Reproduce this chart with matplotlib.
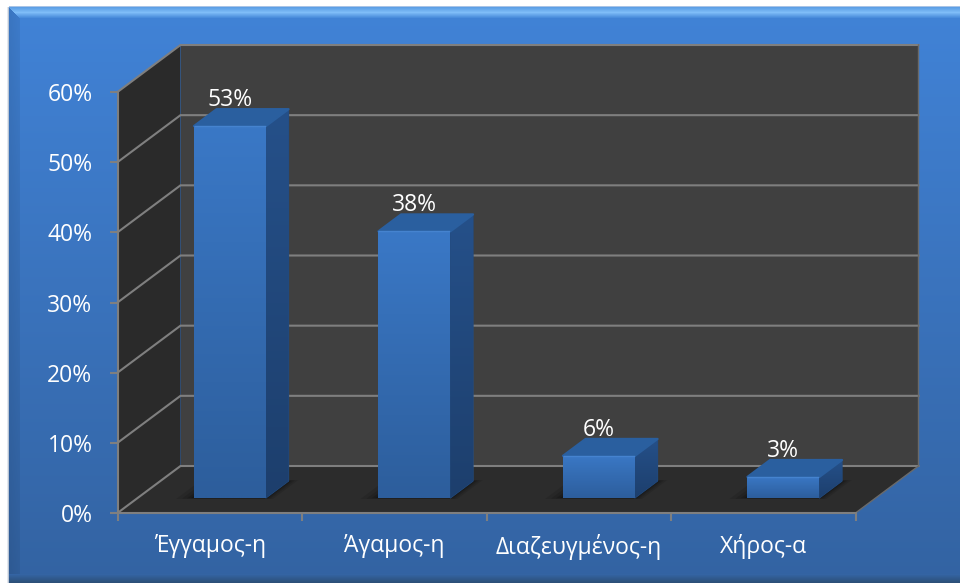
import numpy as np
import matplotlib
matplotlib.use("Agg")
import matplotlib.pyplot as plt
from matplotlib.patches import Polygon
from matplotlib.colors import to_rgb

categories = ["Έγγαμος-η", "Άγαμος-η", "Διαζευγμένος-η", "Χήρος-α"]
values = [53, 38, 6, 3]
y_ticks = [0, 10, 20, 30, 40, 50, 60]
y_labels = ["0%", "10%", "20%", "30%", "40%", "50%", "60%"]

W, H = 960, 583
FS = 16.5
plt.rcParams['font.family'] = ['Open Sans', 'Noto Sans', 'DejaVu Sans']
fig = plt.figure(figsize=(W / 100, H / 100), dpi=100)

# ---- background panel (vertical gradient with bevelled frame)
bg_ax = fig.add_axes([0, 0, 1, 1])
bg_ax.set_axis_off()
img = np.ones((H, W, 3))
def lerp(a, b, t):
    return np.array(to_rgb(a)) * (1 - t) + np.array(to_rgb(b)) * t
L, T, B = 9, 7, 583
for r in range(T, B):
    t = (r - T) / (B - T)
    img[r, L:] = lerp('#4183d7', '#3363a2', t)
for c in range(L, L + 11):
    img[T + (c - L) + 1:B, c] = img[T + (c - L) + 1:B, c] * (0.90 + 0.004 * (c - L))
for r in range(T, 18):
    t = (r - T) / 10
    c = lerp('#5d9fe6', '#7fbdf8', t / 0.5) if t < 0.5 else lerp('#7fbdf8', '#4a8ddc', (t - 0.5) / 0.5)
    img[r, L + (r - T):] = c
img[T - 1, L:] = to_rgb('#a9c4e6')
for r in range(B - 9, B):
    t = (r - B + 9) / 8
    img[r, L:] = lerp('#3464a3', '#2d5078', t)
img[T:B, L - 1] = to_rgb('#b8c4d4')
img[T:B, L - 2] = to_rgb('#e4e8ee')
bg_ax.imshow(img, aspect='auto', interpolation='nearest', extent=(0, W, H, 0))

# ---- chart axes: front plane of the 3D box
x0, x1, y_top, y_bot = 117.5, 855.5, 92, 513
ax = fig.add_axes([x0 / W, 1 - y_bot / H, (x1 - x0) / W, (y_bot - y_top) / H])
ax.patch.set_alpha(0)
n = len(categories)
XMAX, YMAX = n, 60
DX = 63 / ((x1 - x0) / XMAX)      # full depth, in data units
DY = 47 / ((y_bot - y_top) / YMAX)

def proj(x, y, d):
    return (x + d * DX, y + d * DY)

GRID = '#7f7f7f'
LW = 1.5
# walls
ax.add_patch(Polygon([proj(0, 0, 1), proj(XMAX, 0, 1), proj(XMAX, YMAX, 1), proj(0, YMAX, 1)],
                     fc='#404040', ec='none', zorder=1, clip_on=False))
ax.add_patch(Polygon([proj(0, 0, 0), proj(0, 0, 1), proj(0, YMAX, 1), proj(0, YMAX, 0)],
                     fc='#2a2a2a', ec='none', zorder=1, clip_on=False))
ax.add_patch(Polygon([proj(0, 0, 0), proj(XMAX, 0, 0), proj(XMAX, 0, 1), proj(0, 0, 1)],
                     fc='#2c2c2c', ec='none', zorder=1, clip_on=False))
# grid
for v in y_ticks:
    pts = [proj(0, v, 0), proj(0, v, 1), proj(XMAX, v, 1)]
    ax.plot(*zip(*pts), color=GRID, lw=LW, zorder=2, clip_on=False, solid_joinstyle='miter')
pts = [proj(XMAX, 0, 0), proj(XMAX, 0, 1), proj(XMAX, YMAX, 1)]
ax.plot(*zip(*pts), color='#6a6a6a', lw=1.0, zorder=2, clip_on=False)

# ---- bars
BW = 0.39
D0, D1 = 0.32, 0.68

def gradient_on(patch, top, bottom, zorder):
    verts = patch.get_path().vertices
    verts = patch.get_patch_transform().transform(verts)
    xa, xb, ya, yb = verts[:, 0].min(), verts[:, 0].max(), verts[:, 1].min(), verts[:, 1].max()
    grad = np.array([[lerp(top, bottom, t)] for t in np.linspace(0, 1, 64)])
    im = ax.imshow(grad, aspect='auto', extent=(xa, xb, ya, yb), origin='upper',
                   interpolation='bilinear', zorder=zorder, clip_on=True)
    im.set_clip_path(patch)

for i, v in enumerate(values):
    xc = i + 0.5
    xl, xr = xc - BW / 2, xc + BW / 2
    # soft floor shadow
    for k, a in zip([0.09, 0.06, 0.035, 0.015], [0.10, 0.12, 0.15, 0.2]):
        e = k
        ax.add_patch(Polygon([proj(xl - e, 0, D0 - e * 0.25), proj(xr + e * 0.5, 0, D0 - e * 0.25),
                              proj(xr + e * 0.5, 0, D1 + e * 0.25), proj(xl - e, 0, D1 + e * 0.25)],
                             fc='black', ec='none', alpha=a, zorder=2.5, clip_on=False))
    # side face
    side = Polygon([proj(xr, 0, D0), proj(xr, 0, D1), proj(xr, v, D1), proj(xr, v, D0)],
                   fc='#234c80', ec='#234c80', lw=0.8, joinstyle='round', zorder=3, clip_on=False)
    ax.add_patch(side)
    gradient_on(side, '#255089', '#1d3f6d', 3.1)
    # top face
    top = Polygon([proj(xl, v, D0), proj(xr, v, D0), proj(xr, v, D1), proj(xl, v, D1)],
                  fc='#2a5f9f', ec='#2a5f9f', lw=1.6, joinstyle='round', zorder=3.2, clip_on=False)
    ax.add_patch(top)
    # front face
    fx, fy = proj(xc, 0, D0)
    bar = ax.bar(fx, v, width=BW, bottom=fy, color='#3470b8', edgecolor='none',
                 linewidth=0, zorder=3.4, clip_on=False)[0]
    gradient_on(bar, '#3a78c6', '#2d5e9c', 3.5)
    lx, ly = proj(xc, v, D0)
    ax.plot([fx - BW / 2 + 0.005, fx + BW / 2 - 0.005], [ly, ly], color='#4583cf', lw=1.0,
            zorder=3.6, clip_on=False)
    # value label
    ax.annotate(f"{v}%", xy=(lx, ly), xytext=(0, 18.6), textcoords='offset points',
                ha='center', va='center', color='white', fontsize=FS, zorder=5,
                annotation_clip=False)

# ---- axes, ticks
ax.set_xlim(0, XMAX)
ax.set_ylim(0, YMAX)
for s in ['top', 'right']:
    ax.spines[s].set_visible(False)
for s in ['left', 'bottom']:
    ax.spines[s].set_color(GRID)
    ax.spines[s].set_linewidth(LW)
    ax.spines[s].set_zorder(4)
ax.set_yticks(y_ticks)
ax.set_yticklabels(y_labels, color='white', fontsize=FS)
ax.set_xticks(np.arange(n + 1))
ax.set_xticklabels([])
ax.set_xticks(np.arange(n) + 0.5, minor=True)
ax.set_xticklabels(categories, minor=True, color='white', fontsize=FS)
ax.tick_params(axis='y', length=6, width=LW, color=GRID, pad=12)
ax.tick_params(axis='x', which='major', length=6, width=LW, color=GRID)
ax.tick_params(axis='x', which='minor', length=0, pad=15)

fig.savefig("out.png", dpi=100)
